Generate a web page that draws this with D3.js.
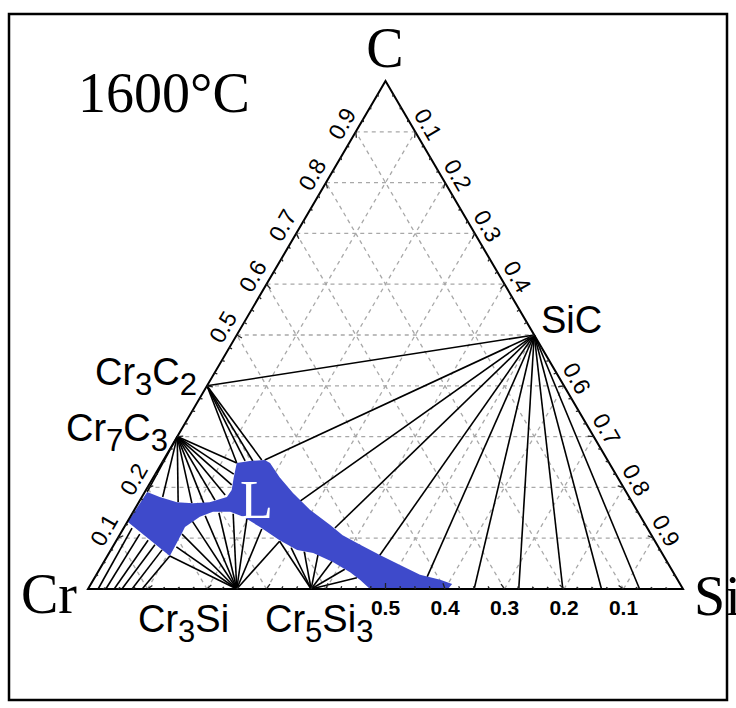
<!DOCTYPE html>
<html>
<head>
<meta charset="utf-8">
<script src="https://cdnjs.cloudflare.com/ajax/libs/d3/7.8.5/d3.min.js"></script>
<style>
  body { margin: 0; background: #fff; }
  svg { display: block; }
</style>
</head>
<body>
<script>
const width = 736, height = 708;

// all compositions below are [Si fraction, C fraction] (Cr = rest)
const compoundNames = ["Cr3C2", "Cr7C3", "SiC", "Cr3Si", "Cr5Si3"];
const compoundSi = [0, 0, 0.5, 0.25, 0.375];
const compoundC = [0.4, 0.3, 0.5, 0, 0];

// liquid (L) region outline
const liquid = [
  [0.001, 0.132], [0.004, 0.191], [0.030, 0.181], [0.064, 0.171], [0.092, 0.169],
  [0.119, 0.171], [0.143, 0.181], [0.144, 0.195], [0.135, 0.220], [0.126, 0.248],
  [0.146, 0.252], [0.170, 0.254], [0.182, 0.248], [0.212, 0.220], [0.250, 0.189],
  [0.295, 0.156], [0.344, 0.126], [0.375, 0.106], [0.414, 0.087], [0.457, 0.067],
  [0.501, 0.047], [0.544, 0.028], [0.583, 0.018], [0.607, 0.010], [0.605, 0],
  [0.474, 0], [0.448, 0.018], [0.424, 0.033], [0.385, 0.053], [0.343, 0.071],
  [0.313, 0.077], [0.274, 0.096], [0.228, 0.122], [0.190, 0.142], [0.163, 0.152],
  [0.134, 0.152], [0.117, 0.142], [0.102, 0.122], [0.103, 0.110], [0.105, 0.065]
];

// tie lines, end points of each fan
const tiesSiC = [[0, 0.4], [0.170, 0.254], [0.270, 0.173], [0.355, 0.120], [0.457, 0.065],
  [0.558, 0.024], [0.649, 0], [0.724, 0], [0.798, 0], [0.863, 0], [0.927, 0]];
const tiesCr3C2 = [[0.126, 0.248], [0.138, 0.252], [0.151, 0.252], [0.165, 0.254]];
const tiesCr7C3 = [[0.004, 0.191], [0.035, 0.181], [0.066, 0.171], [0.090, 0.169], [0.110, 0.169],
  [0.126, 0.175], [0.138, 0.185], [0.139, 0.205], [0.132, 0.226], [0.126, 0.248]];
const tiesCr3Si = [[0.105, 0.065], [0.107, 0.083], [0.104, 0.108], [0.108, 0.134], [0.125, 0.144],
  [0.145, 0.150], [0.170, 0.148], [0.198, 0.138], [0.233, 0.118], [0.275, 0.094]];
const tiesCr5Si3 = [[0.275, 0.094], [0.301, 0.081], [0.327, 0.073], [0.353, 0.067], [0.383, 0.055],
  [0.412, 0.039], [0.441, 0.022]];
// Cr solid solution (on the Cr-Si side) to liquid
const crssSi = [0.017, 0.030, 0.044, 0.057, 0.074, 0.091];
const crssEnd = [[0.014, 0.120], [0.033, 0.108], [0.053, 0.096], [0.069, 0.087], [0.086, 0.077], [0.105, 0.065]];

const gridSteps = [0.1, 0.2, 0.3, 0.4, 0.5, 0.6, 0.7, 0.8, 0.9];
const leftTicks = [0.1, 0.2, 0.5, 0.6, 0.7, 0.8, 0.9];      // C
const rightTicks = [0.1, 0.2, 0.3, 0.4, 0.6, 0.7, 0.8, 0.9]; // Si
const bottomTicks = [0.5, 0.4, 0.3, 0.2, 0.1];              // Cr

const svg = d3.select("body").append("svg")
    .attr("width", width)
    .attr("height", height);

const sx = d3.scaleLinear().domain([0, 1]).range([88, 683]);
const sy = d3.scaleLinear().domain([0, 1]).range([589, 81]);
function proj(si, c) { return [sx(si + c / 2), sy(c)]; }
const line = d3.line().x(d => proj(d[0], d[1])[0]).y(d => proj(d[0], d[1])[1]);

// frame
svg.append("rect")
    .attr("x", 9).attr("y", 14).attr("width", 718).attr("height", 686)
    .attr("fill", "none").attr("stroke", "#000").attr("stroke-width", 2.5);

// dashed grid
const grid = svg.append("g")
    .attr("stroke", "#a8a8a8").attr("stroke-width", 1.3)
    .attr("stroke-dasharray", "4,4").attr("fill", "none");
gridSteps.forEach(v => {
    grid.append("path").attr("d", line([[0, v], [1 - v, v]]));
    grid.append("path").attr("d", line([[v, 0], [v, 1 - v]]));
    grid.append("path").attr("d", line([[1 - v, 0], [0, 1 - v]]));
});

// tie lines
const ties = svg.append("g").attr("stroke", "#000").attr("stroke-width", 1.6).attr("fill", "none");
function fan(si, c, ends) {
    ends.forEach(e => ties.append("path").attr("d", line([[si, c], e])));
}
fan(0.5, 0.5, tiesSiC);
fan(0, 0.4, tiesCr3C2);
fan(0, 0.3, tiesCr7C3);
fan(0.25, 0, tiesCr3Si);
fan(0.375, 0, tiesCr5Si3);
crssSi.forEach((s, i) => ties.append("path").attr("d", line([[s, 0], crssEnd[i]])));

// liquid region
svg.append("path")
    .attr("d", line(liquid) + "Z")
    .attr("fill", "#3e4acb");

// triangle edges and ticks
svg.append("path")
    .attr("d", line([[0, 0], [1, 0], [0, 1]]) + "Z")
    .attr("fill", "none").attr("stroke", "#000").attr("stroke-width", 2)
    .attr("stroke-linejoin", "miter");

const ticks = svg.append("g").attr("stroke", "#222").attr("stroke-width", 1.3);
const edges = [
    { a: [0, 0], b: [0, 1] },   // Cr -> C
    { a: [0, 1], b: [1, 0] },   // C -> Si
    { a: [1, 0], b: [0, 0] }    // Si -> Cr
];
const centre = proj(1 / 3, 1 / 3);
edges.forEach(ed => {
    for (let k = 1; k < 40; k++) {
        const t = k / 40;
        const si = ed.a[0] + (ed.b[0] - ed.a[0]) * t;
        const c = ed.a[1] + (ed.b[1] - ed.a[1]) * t;
        const p = proj(si, c);
        const dx = centre[0] - p[0], dy = centre[1] - p[1];
        const len = Math.hypot(dx, dy);
        const L = (k % 4 === 0) ? 6 : 3;
        ticks.append("line")
            .attr("x1", p[0]).attr("y1", p[1])
            .attr("x2", p[0] + dx / len * L).attr("y2", p[1] + dy / len * L);
    }
});

// tick labels
const tickFont = "'Liberation Sans', Arial, sans-serif";
const labels = svg.append("g").attr("font-family", tickFont).attr("fill", "#000");
leftTicks.forEach(v => {
    const p = proj(0, v);
    const x = p[0] - 0.862 * 16, y = p[1] - 0.506 * 16;
    labels.append("text").attr("transform", `translate(${x},${y}) rotate(-60)`)
        .style("font-size", "23px")
        .attr("text-anchor", "middle").attr("dy", "0.35em").text(v.toFixed(1));
});
rightTicks.forEach(v => {
    const p = proj(v, 1 - v);
    const x = p[0] + 0.863 * 15, y = p[1] - 0.505 * 15;
    labels.append("text").attr("transform", `translate(${x},${y}) rotate(60)`)
        .style("font-size", "23px")
        .attr("text-anchor", "middle").attr("dy", "0.35em").text(v.toFixed(1));
});
bottomTicks.forEach(v => {
    const p = proj(1 - v, 0);
    labels.append("text").attr("x", p[0]).attr("y", p[1] + 26)
        .style("font-size", "21px").style("font-weight", "bold")
        .attr("text-anchor", "middle").text(v.toFixed(1));
});

// corner and title labels
const serif = "'Liberation Serif', 'Times New Roman', serif";
function big(txt, x, y, anchor) {
    svg.append("text").attr("x", x).attr("y", y).attr("text-anchor", anchor || "start")
        .attr("font-family", serif).style("font-size", "56px").attr("fill", "#000").text(txt);
}
big("1600°C", 78, 112);
big("C", 385, 67, "middle");
big("Cr", 21, 613);
big("Si", 694, 615);

// compound labels with subscripts
const compoundPos = [[95, 385], [66, 441], [541, 333], [138, 632], [265, 632]];
compoundNames.forEach((name, i) => {
    const t = svg.append("text")
        .attr("x", compoundPos[i][0]).attr("y", compoundPos[i][1])
        .attr("font-family", tickFont).style("font-size", "38px").attr("fill", "#000");
    let first = true;
    name.split(/(\d)/).filter(s => s.length).forEach(part => {
        if (/\d/.test(part)) {
            t.append("tspan").style("font-size", "31px").attr("dy", 10).text(part);
        } else {
            const ts = t.append("tspan").text(part);
            if (!first) ts.attr("dy", -10);
        }
        first = false;
    });
});

// L label
svg.append("text")
    .attr("x", 240).attr("y", 518)
    .attr("font-family", serif).style("font-size", "54px")
    .attr("fill", "#fff").text("L");
</script>
</body>
</html>
